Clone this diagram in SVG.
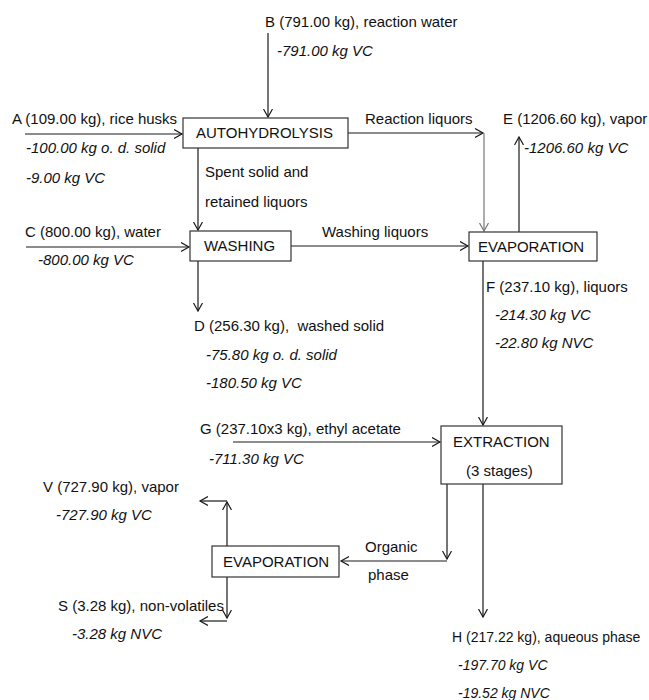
<svg xmlns="http://www.w3.org/2000/svg" width="649" height="700" viewBox="0 0 649 700">
<defs>
<marker id="ah" markerUnits="userSpaceOnUse" markerWidth="12" markerHeight="12" refX="8" refY="5" orient="auto">
<path d="M0,0.5 L8,5 L0,9.5" fill="none" stroke="#1a1a1a" stroke-width="1.2"/>
</marker>
<marker id="ahg" markerUnits="userSpaceOnUse" markerWidth="12" markerHeight="12" refX="8" refY="5" orient="auto">
<path d="M0,0.5 L8,5 L0,9.5" fill="none" stroke="#777" stroke-width="1.2"/>
</marker>
</defs>
<style>
text{font-family:"Liberation Sans",Arial,sans-serif;font-size:15px;fill:#111}
.i{font-style:italic}
.s{font-size:14px}
.box{fill:#fff;stroke:#333;stroke-width:1.2}
.c{fill:none;stroke:#1a1a1a;stroke-width:1.2}
.g{fill:none;stroke:#777;stroke-width:1.2}
</style>
<rect width="649" height="700" fill="#fff"/>
<g id="connectors">
<path class="c" d="M268,33 V117" marker-end="url(#ah)"/>
<path class="c" d="M25,134 H182" marker-end="url(#ah)"/>
<path class="c" d="M348,133 H483" marker-end="url(#ah)"/>
<path class="g" d="M484,133 V231" marker-end="url(#ahg)"/>
<path class="c" d="M519,232 V137" marker-end="url(#ah)"/>
<path class="c" d="M198,148 V230" marker-end="url(#ah)"/>
<path class="c" d="M26,247 H189" marker-end="url(#ah)"/>
<path class="c" d="M291,246 H468" marker-end="url(#ah)"/>
<path class="c" d="M198,261 V311" marker-end="url(#ah)"/>
<path class="c" d="M483,261 V425" marker-end="url(#ah)"/>
<path class="c" d="M233,442 H440" marker-end="url(#ah)"/>
<path class="c" d="M447,484 V559" marker-end="url(#ah)"/>
<path class="c" d="M447,561 H341" marker-end="url(#ah)"/>
<path class="c" d="M227,546 V502" marker-end="url(#ah)"/>
<path class="c" d="M227,501 H200" marker-end="url(#ah)"/>
<path class="c" d="M227,577 V618" marker-end="url(#ah)"/>
<path class="c" d="M227,621 H200" marker-end="url(#ah)"/>
<path class="c" d="M483,484 V617" marker-end="url(#ah)"/>
</g>
<g id="autohydrolysis">
<rect class="box" x="183" y="118" width="165" height="30"/>
<text x="196" y="138">AUTOHYDROLYSIS</text>
</g>
<g id="washing">
<rect class="box" x="190" y="231" width="101" height="30"/>
<text x="204" y="251">WASHING</text>
</g>
<g id="evaporation1">
<rect class="box" x="469" y="232" width="128" height="29"/>
<text x="478" y="252">EVAPORATION</text>
</g>
<g id="extraction">
<rect class="box" x="441" y="426" width="121" height="58"/>
<text x="453" y="447">EXTRACTION</text>
<text x="466" y="476">(3 stages)</text>
</g>
<g id="evaporation2">
<rect class="box" x="212" y="546" width="127" height="31"/>
<text x="223" y="567">EVAPORATION</text>
</g>
<g id="labels">
<text x="265" y="27">B (791.00 kg), reaction water</text>
<text class="i" x="277" y="56">-791.00 kg VC</text>
<text x="12" y="124">A (109.00 kg), rice husks</text>
<text class="i" x="26" y="153">-100.00 kg o. d. solid</text>
<text class="i" x="26" y="183">-9.00 kg VC</text>
<text x="205" y="177">Spent solid and</text>
<text x="205" y="207">retained liquors</text>
<text x="365" y="124">Reaction liquors</text>
<text x="503" y="124">E (1206.60 kg), vapor</text>
<text class="i" x="524" y="153">-1206.60 kg VC</text>
<text x="25" y="237">C (800.00 kg), water</text>
<text class="i" x="38" y="265">-800.00 kg VC</text>
<text x="322" y="237">Washing liquors</text>
<text x="194" y="331" xml:space="preserve">D (256.30 kg),  washed solid</text>
<text class="i" x="206" y="360">-75.80 kg o. d. solid</text>
<text class="i" x="206" y="388">-180.50 kg VC</text>
<text x="486" y="292">F (237.10 kg), liquors</text>
<text class="i" x="495" y="320">-214.30 kg VC</text>
<text class="i" x="495" y="348">-22.80 kg NVC</text>
<text x="200" y="434">G (237.10x3 kg), ethyl acetate</text>
<text class="i" x="209" y="464">-711.30 kg VC</text>
<text x="365" y="552">Organic</text>
<text x="368" y="580">phase</text>
<text x="43" y="492">V (727.90 kg), vapor</text>
<text class="i" x="56" y="520">-727.90 kg VC</text>
<text x="58" y="611">S (3.28 kg), non-volatiles</text>
<text class="i" x="72" y="639">-3.28 kg NVC</text>
<text class="s" x="452" y="642">H (217.22 kg), aqueous phase</text>
<text class="i s" x="458" y="670">-197.70 kg VC</text>
<text class="i s" x="458" y="698">-19.52 kg NVC</text>
</g>
</svg>
